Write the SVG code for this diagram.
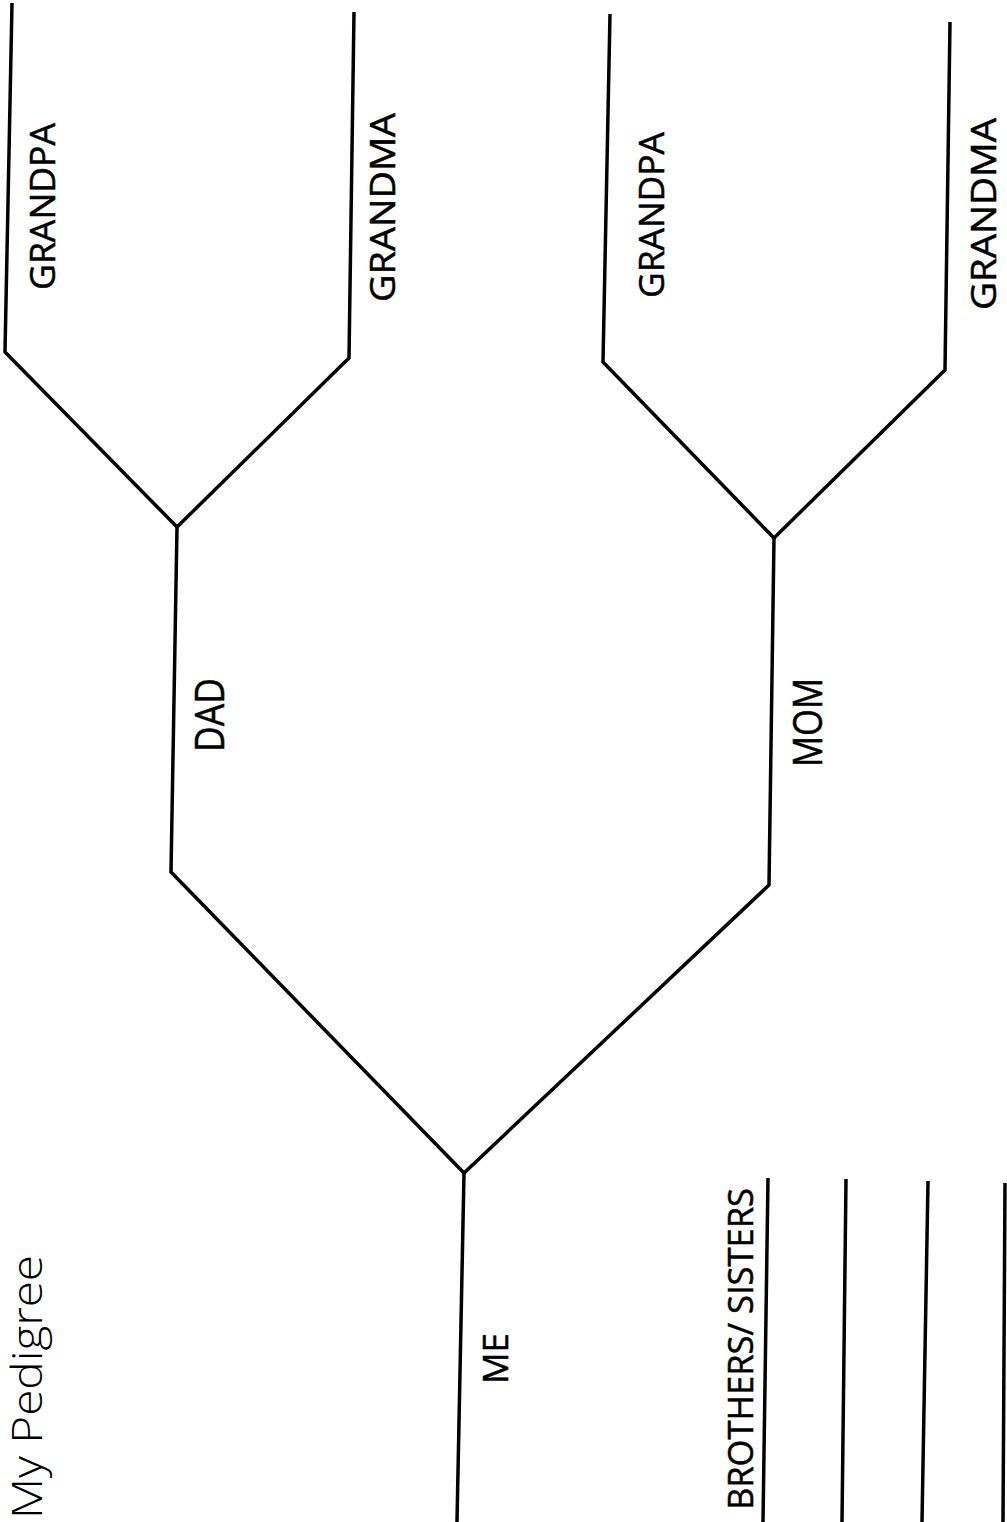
<svg xmlns="http://www.w3.org/2000/svg" width="1007" height="1522" viewBox="0 0 1007 1522">
<style>
.ln{fill:none;stroke:#000;stroke-width:3.5;stroke-linejoin:miter;stroke-linecap:butt}
.lb{font-family:"Open Sans","Liberation Sans",sans-serif;fill:#000;stroke:#000;stroke-width:0.5}
.title{font-family:"Open Sans","Liberation Sans",sans-serif;font-weight:300;fill:#000}
</style>
<rect width="1007" height="1522" fill="#fff"/>
<g id="connectors">
<polyline class="ln" points="12,3 5,352 177,527 349,358 354,12"/>
<polyline class="ln" points="610,14 603,362 774,538 945,370 950,22"/>
<polyline class="ln" points="177,527 171,872 464,1173 769,885 774,538"/>
<polyline class="ln" points="464,1173 457,1522"/>
<line class="ln" x1="768" y1="1178" x2="763" y2="1522"/>
<line class="ln" x1="846" y1="1179" x2="842" y2="1522"/>
<line class="ln" x1="928" y1="1181" x2="922" y2="1522"/>
<line class="ln" x1="1005" y1="1183" x2="1003" y2="1522"/>
</g>
<g id="title"><text class="title" font-size="42" transform="translate(42,1519) rotate(-90)" textLength="264" lengthAdjust="spacingAndGlyphs">My Pedigree</text></g>
<g id="dad-grandpa"><text class="lb" font-size="34" transform="translate(55,290) rotate(-90)" textLength="167" lengthAdjust="spacingAndGlyphs">GRANDPA</text></g>
<g id="dad-grandma"><text class="lb" font-size="34" transform="translate(395,302) rotate(-90)" textLength="189" lengthAdjust="spacingAndGlyphs">GRANDMA</text></g>
<g id="mom-grandpa"><text class="lb" font-size="34" transform="translate(664,298) rotate(-90)" textLength="166" lengthAdjust="spacingAndGlyphs">GRANDPA</text></g>
<g id="mom-grandma"><text class="lb" font-size="34" transform="translate(996,310) rotate(-90)" textLength="192" lengthAdjust="spacingAndGlyphs">GRANDMA</text></g>
<g id="dad"><text class="lb" font-size="40" transform="translate(224,752) rotate(-90)" textLength="74" lengthAdjust="spacingAndGlyphs">DAD</text></g>
<g id="mom"><text class="lb" font-size="40" transform="translate(822,767) rotate(-90)" textLength="89" lengthAdjust="spacingAndGlyphs">MOM</text></g>
<g id="me"><text class="lb" font-size="35" transform="translate(508,1384) rotate(-90)" textLength="51" lengthAdjust="spacingAndGlyphs">ME</text></g>
<g id="siblings"><text class="lb" font-size="35" transform="translate(753,1510) rotate(-90)" textLength="322" lengthAdjust="spacingAndGlyphs">BROTHERS/ SISTERS</text></g>
</svg>
